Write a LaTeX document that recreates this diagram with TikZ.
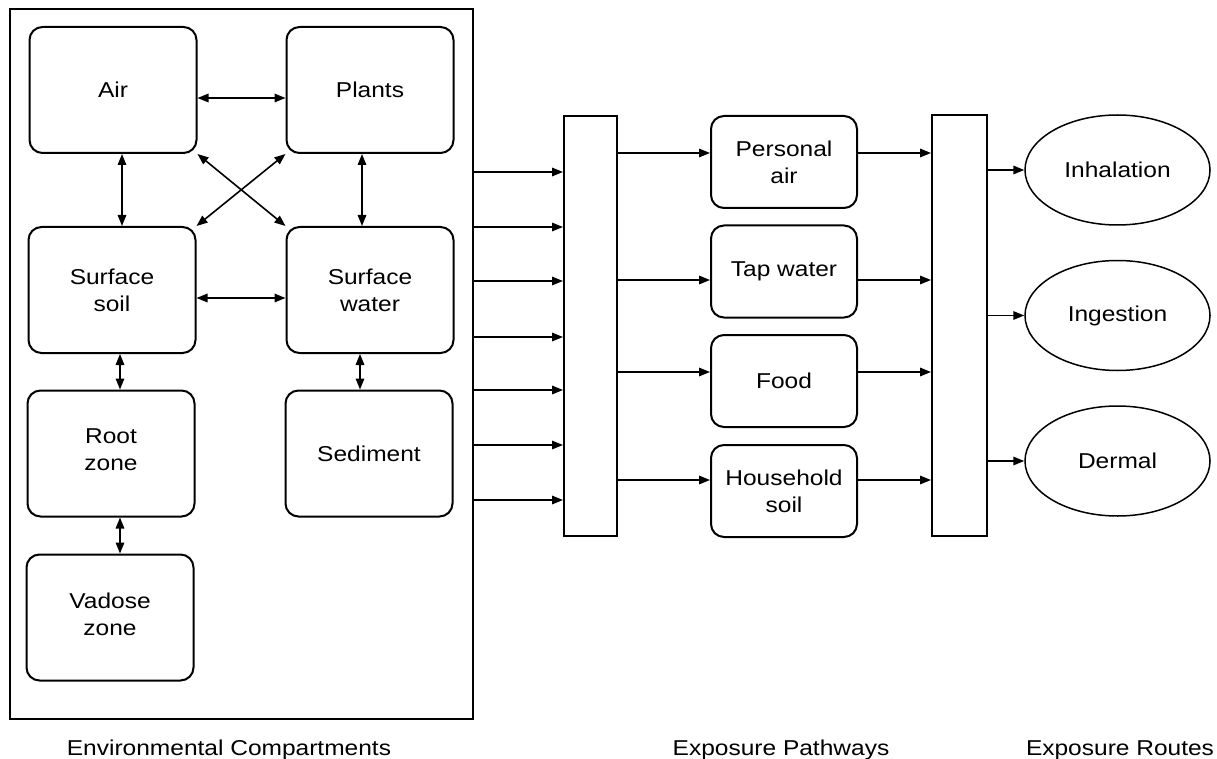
\documentclass[tikz,border=0pt]{standalone}
\usepackage{fontspec}
\setmainfont{Liberation Sans}[FakeStretch=1.14]
\usetikzlibrary{arrows.meta,shapes.geometric}
\newcommand\lblfont{\fontsize{21.5}{27}\selectfont}
\begin{document}
\begin{tikzpicture}[x=1pt,y=-1pt,
  box/.style={draw,line width=2pt,rounded corners=13pt,align=center,inner sep=0pt,font=\lblfont},
  lbox/.style={box,minimum width=167pt,minimum height=126pt},
  pbox/.style={box,minimum width=146pt,minimum height=92pt},
  bar/.style={draw,line width=2pt,inner sep=0pt},
  route/.style={draw,ellipse,line width=1.5pt,inner sep=0pt,minimum width=185pt,minimum height=110pt,font=\lblfont},
  link/.style={line width=1.6pt,-{Triangle[length=11pt,width=8.5pt]}},
  both/.style={line width=1.6pt,{Triangle[length=11pt,width=8.5pt]}-{Triangle[length=11pt,width=8.5pt]}},
  foot/.style={font=\lblfont,anchor=base,inner sep=0pt}
]
\fill[white] (0,0) rectangle (1217,759);
\useasboundingbox (0,0) rectangle (1217,759);

% environmental compartments
\node[draw,line width=2pt,minimum width=463pt,minimum height=710pt,inner sep=0pt] (env) at (241.5,364) {};
\node[lbox] (air) at (113,90) {Air};
\node[lbox] (plants) at (370,90) {Plants};
\node[lbox] (soil) at (112,290) {Surface\\soil};
\node[lbox] (water) at (370,290) {Surface\\water};
\node[lbox] (root) at (111,453.5) {Root\\zone\\[-20pt]};
\node[lbox] (sed) at (369,453.5) {Sediment};
\node[lbox] (vad) at (110,617.5) {Vadose\\zone\\[-20pt]};

\draw[both] ([yshift=-8pt]air.east) -- ([yshift=-8pt]plants.west);
\draw[both] ([yshift=-8pt]soil.east) -- ([yshift=-8pt]water.west);
\draw[both] ([xshift=9pt]air.south) -- ([xshift=10pt]soil.north);
\draw[both] ([xshift=-8pt]plants.south) -- ([xshift=-8pt]water.north);
\draw[both] (air.south east) -- (water.north west);
\draw[both] (plants.south west) -- (soil.north east);
\draw[both] ([xshift=8pt]soil.south) -- ([xshift=9pt]root.north);
\draw[both] ([xshift=9pt]root.south) -- ([xshift=10pt]vad.north);
\draw[both] ([xshift=-10pt]water.south) -- ([xshift=-9pt]sed.north);

% collector bars
\node[bar,minimum width=53pt,minimum height=420pt] (bar1) at (590.5,326) {};
\node[bar,minimum width=55pt,minimum height=421pt] (bar2) at (959.5,325.5) {};

\foreach \y in {172,227,281,337,390,445,500}
  \draw[link] (env.east |- 0,\y) -- (bar1.west |- 0,\y);

% exposure pathways
\node[pbox] (pa) at (784,162) {Personal\\air};
\node[pbox] (tw) at (784,271.5) {Tap water};
\node[pbox] (food) at (784,381) {Food};
\node[pbox] (hs) at (784,491) {Household\\soil};

\foreach \n/\y in {pa/153,tw/280,food/372,hs/480}{
  \draw[link] (bar1.east |- 0,\y) -- (\n.west |- 0,\y);
  \draw[link] (\n.east |- 0,\y) -- (bar2.west |- 0,\y);
}

% exposure routes
\node[route] (inh) at (1117.5,170) {Inhalation};
\node[route] (ing) at (1117.5,315.5) {Ingestion};
\node[route] (der) at (1117.5,461) {Dermal};
\foreach \n in {inh,ing,der}
  \draw[link] (bar2.east |- \n.west) -- (\n.west);

% captions
\node[foot] (c1) at (229,755) {Environmental Compartments};
\node[foot] (c2) at (781,755) {Exposure Pathways};
\node[foot] (c3) at (1120,755) {Exposure Routes};
\end{tikzpicture}
\end{document}
